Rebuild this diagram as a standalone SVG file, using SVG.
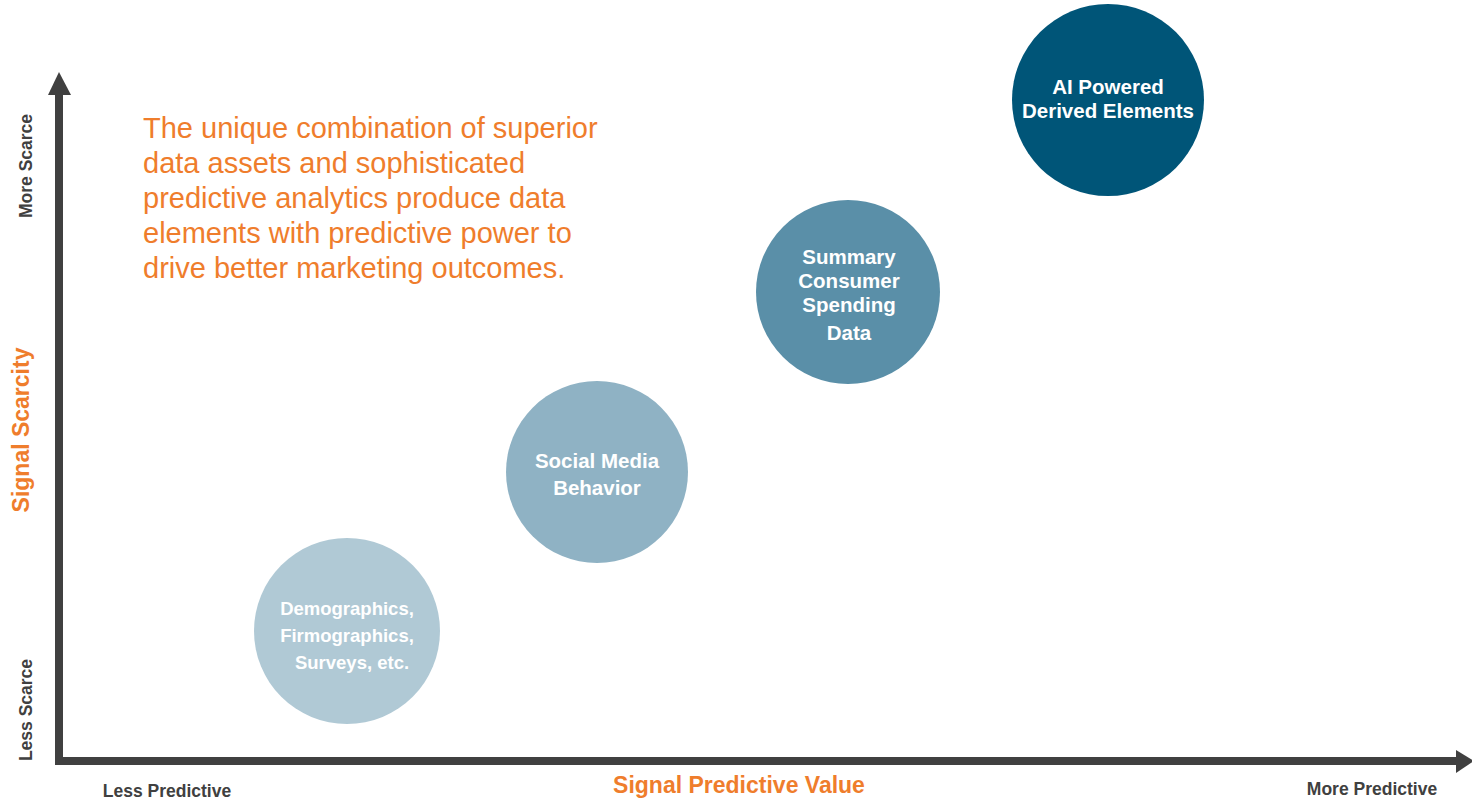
<svg xmlns="http://www.w3.org/2000/svg" width="1472" height="800" viewBox="0 0 1472 800">
  <style>
    .axis-title { font-family: "Liberation Sans", Arial, sans-serif; font-weight: bold; font-size: 23px; fill: #ef7d2c; }
    .axis-end { font-family: "Liberation Sans", Arial, sans-serif; font-weight: bold; font-size: 17.5px; fill: #404040; }
    .lead { font-family: "Liberation Sans", Arial, sans-serif; font-size: 29px; fill: #ef7d2c; }
    .node-label { font-family: "Liberation Sans", Arial, sans-serif; font-weight: bold; font-size: 20.5px; fill: #ffffff; text-anchor: middle; }
    .node-label.small { font-size: 18.5px; }
  </style>
  <rect width="1472" height="800" fill="#ffffff"/>

  <!-- axes -->
  <g id="connectors" fill="#404040">
    <path d="M59 761 L59 92" stroke="#404040" stroke-width="8" fill="none"/>
    <path d="M55 761 L1458 761" stroke="#404040" stroke-width="8" fill="none" stroke-linejoin="round"/>
    <polygon points="59,72 48,95 71,95"/>
    <polygon points="1474,761 1456,750 1456,773"/>
  </g>

  <!-- axis labels -->
  <text class="axis-title" transform="translate(29 430) rotate(-90)" text-anchor="middle">Signal Scarcity</text>
  <text class="axis-end" transform="translate(32 166) rotate(-90)" text-anchor="middle">More Scarce</text>
  <text class="axis-end" transform="translate(32 710) rotate(-90)" text-anchor="middle">Less Scarce</text>
  <text class="axis-end" x="167" y="797" text-anchor="middle">Less Predictive</text>
  <text class="axis-end" x="1372" y="795" text-anchor="middle">More Predictive</text>
  <text class="axis-title" x="739" y="793" text-anchor="middle">Signal Predictive Value</text>

  <!-- lead text -->
  <text class="lead">
    <tspan x="143" y="138">The unique combination of superior</tspan>
    <tspan x="143" y="173">data assets and sophisticated</tspan>
    <tspan x="143" y="208">predictive analytics produce data</tspan>
    <tspan x="143" y="243">elements with predictive power to</tspan>
    <tspan x="143" y="278">drive better marketing outcomes.</tspan>
  </text>

  <!-- nodes -->
  <g id="node-demographics">
    <circle cx="347" cy="631" r="93" fill="#b0c9d5"/>
    <text class="node-label small"><tspan x="347" y="615">Demographics,</tspan><tspan x="347" y="642">Firmographics,</tspan><tspan x="352" y="669">Surveys, etc.</tspan></text>
  </g>
  <g id="node-social">
    <circle cx="597" cy="472" r="91" fill="#8fb2c4"/>
    <text class="node-label"><tspan x="597" y="468">Social Media</tspan><tspan x="597" y="495">Behavior</tspan></text>
  </g>
  <g id="node-spending">
    <circle cx="848" cy="292" r="92" fill="#5a8fa8"/>
    <text class="node-label"><tspan x="849" y="264">Summary</tspan><tspan x="849" y="288">Consumer</tspan><tspan x="849" y="312">Spending</tspan><tspan x="849" y="340">Data</tspan></text>
  </g>
  <g id="node-ai">
    <circle cx="1108" cy="100" r="96" fill="#005578"/>
    <text class="node-label"><tspan x="1108" y="94">AI Powered</tspan><tspan x="1108" y="118">Derived Elements</tspan></text>
  </g>
</svg>
